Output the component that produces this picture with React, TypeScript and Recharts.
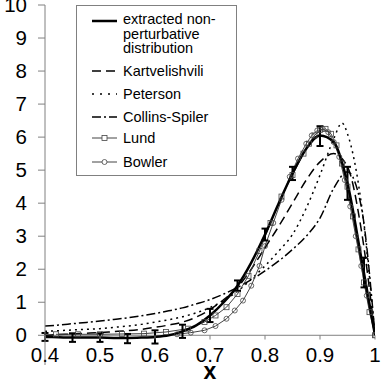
import {
  ComposedChart,
  Line,
  Scatter,
  ErrorBar,
  XAxis,
  YAxis,
  ReferenceLine,
  Legend,
} from "recharts";

const FONT = "'Liberation Sans', Arial, Helvetica, sans-serif";

// x grid shared by the extracted curve and the model curves
const xGrid = [
  0.4, 0.425, 0.45, 0.475, 0.5, 0.525, 0.55, 0.575, 0.6, 0.625, 0.65, 0.675,
  0.7, 0.725, 0.75, 0.775, 0.8, 0.825, 0.85, 0.875, 0.9, 0.925, 0.95, 0.975, 1.0,
];

const extracted = [
  -0.05, -0.06, -0.07, -0.07, -0.07, -0.08, -0.08, -0.07, -0.05, 0.0, 0.12, 0.3,
  0.6, 1.0, 1.5, 2.2, 3.05, 4.0, 4.9, 5.65, 6.05, 5.85, 4.6, 2.35, 0,
];

const kartvelishvili = [
  0.0, 0.02, 0.04, 0.06, 0.08, 0.11, 0.14, 0.18, 0.24, 0.31, 0.4, 0.55, 0.78,
  1.08, 1.45, 2.0, 2.65, 3.3, 4.0, 4.7, 5.25, 5.5, 5.1, 3.2, 0,
];

const collinsSpiler = [
  0.28, 0.31, 0.35, 0.39, 0.43, 0.48, 0.53, 0.59, 0.66, 0.74, 0.83, 0.95, 1.08,
  1.25, 1.45, 1.68, 1.95, 2.25, 2.6, 3.0, 3.55, 4.45, 4.95, 3.9, 0,
];

const petersonX = [
  0.4, 0.425, 0.45, 0.475, 0.5, 0.525, 0.55, 0.575, 0.6, 0.625, 0.65, 0.675,
  0.7, 0.725, 0.75, 0.775, 0.8, 0.825, 0.85, 0.875, 0.9, 0.925, 0.94, 0.95, 0.975, 1.0,
];
const peterson = [
  0.12, 0.14, 0.16, 0.18, 0.2, 0.24, 0.28, 0.33, 0.4, 0.47, 0.56, 0.68, 0.84,
  1.05, 1.33, 1.7, 2.1, 2.55, 3.05, 3.85, 4.85, 5.95, 6.43, 6.1, 4.0, 0,
];

const lundX = [
  0.42, 0.46, 0.5, 0.54, 0.58, 0.62, 0.66, 0.69, 0.71, 0.73, 0.75, 0.77, 0.79,
  0.81, 0.83, 0.85, 0.87, 0.88, 0.89, 0.9, 0.91, 0.92, 0.93, 0.94, 0.95, 0.96,
  0.97, 0.98, 0.99, 1.0,
];
const lund = [
  0.03, 0.03, 0.03, 0.04, 0.05, 0.1, 0.2, 0.4, 0.6, 0.85, 1.25, 1.8, 2.55, 3.4,
  4.2, 4.85, 5.5, 5.8, 6.05, 6.22, 6.25, 6.1, 5.75, 5.2, 4.5, 3.6, 2.6, 1.6, 0.7, 0,
];

const bowlerX = [
  0.64, 0.665, 0.69, 0.71, 0.73, 0.745, 0.76, 0.775, 0.79, 0.8, 0.815, 0.83,
  0.845, 0.86, 0.875, 0.885, 0.895, 0.905, 0.915, 0.925, 0.935, 0.945, 0.955,
  0.965, 0.975, 0.985, 1.0,
];
const bowler = [
  0.03, 0.08, 0.15, 0.28, 0.5, 0.75, 1.05, 1.5, 2.1, 2.7, 3.4, 4.1, 4.8, 5.35,
  5.8, 6.05, 6.2, 6.25, 6.15, 5.85, 5.4, 4.7, 3.9, 3.0, 2.1, 1.2, 0,
];

// error bars on the extracted distribution
const errX = [0.4, 0.45, 0.5, 0.55, 0.6, 0.65, 0.7, 0.75, 0.8, 0.85, 0.9, 0.95, 0.98];
const errY = [-0.05, -0.07, -0.07, -0.1, -0.05, 0.12, 0.6, 1.5, 3.05, 4.9, 6.03, 4.6, 1.9];
const errSize = [0.12, 0.13, 0.13, 0.14, 0.2, 0.2, 0.2, 0.16, 0.18, 0.2, 0.3, 0.5, 0.45];

const xTicks = [0.4, 0.5, 0.6, 0.7, 0.8, 0.9, 1];
const xTickLabels = ["0.4", "0.5", "0.6", "0.7", "0.8", "0.9", "1"];
const yTicks = [0, 1, 2, 3, 4, 5, 6, 7, 8, 9, 10];

const zip = (xs: number[], ys: number[]) => xs.map((x, i) => ({ x, y: ys[i] }));

const extractedData = zip(xGrid, extracted);
const kartData = zip(xGrid, kartvelishvili);
const csData = zip(xGrid, collinsSpiler);
const petData = zip(petersonX, peterson);
const lundData = zip(lundX, lund);
const bowlerData = zip(bowlerX, bowler);
const errData = errX.map((x, i) => ({ x, y: errY[i], err: errSize[i] }));

const AXIS = "#808080";
const GREY = "#444";

const XTick = ({ x, y, payload }: any) => {
  const label = xTickLabels[xTicks.indexOf(payload.value)] ?? String(payload.value);
  return (
    <g>
      <line x1={x} x2={x} y1={y - 29.7} y2={y - 25.5} stroke={AXIS} />
      <text x={x} y={y - 3} textAnchor="middle" fontSize={20.5} fill="#000" fontFamily={FONT}>
        {label}
      </text>
    </g>
  );
};

const YTick = ({ x, y, payload }: any) => (
  <text x={x} y={y + 7} textAnchor="end" fontSize={20.5} fill="#000" fontFamily={FONT}>
    {payload.value}
  </text>
);

const SquareDot = ({ cx, cy }: any) =>
  cx == null ? null : (
    <rect x={cx - 2.5} y={cy - 2.5} width={5} height={5} fill="none" stroke={GREY} strokeWidth={0.8} />
  );

const CircleDot = ({ cx, cy }: any) =>
  cx == null ? null : <circle cx={cx} cy={cy} r={2.5} fill="none" stroke={GREY} strokeWidth={0.8} />;

const legendRows = [
  { lines: ["Kartvelishvili"], dash: "9 5", width: 1.5, y: 66 },
  { lines: ["Peterson"], dash: "2 6", width: 1.5, y: 89 },
  { lines: ["Collins-Spiler"], dash: "9 3 2 3", width: 1.5, y: 112 },
];

const LegendBox = () => (
  <svg width={161} height={171} style={{ display: "block" }}>
    <rect x={0.5} y={0.5} width={160} height={170} fill="#fff" stroke={AXIS} />
    <line x1={16} x2={41} y1={16} y2={16} stroke="#000" strokeWidth={2.5} />
    <text fontSize={14.5} fontFamily={FONT} fill="#000">
      <tspan x={47} y={19}>extracted non-</tspan>
      <tspan x={47} y={33.5}>perturbative</tspan>
      <tspan x={47} y={48}>distribution</tspan>
    </text>
    {legendRows.map((r) => (
      <g key={r.lines[0]}>
        <line x1={16} x2={41} y1={r.y} y2={r.y} stroke="#000" strokeWidth={r.width} strokeDasharray={r.dash} />
        <text x={47} y={r.y + 5} fontSize={14.5} fontFamily={FONT} fill="#000">
          {r.lines[0]}
        </text>
      </g>
    ))}
    <line x1={16} x2={41} y1={133} y2={133} stroke={GREY} strokeWidth={1} />
    <rect x={26} y={130.5} width={5} height={5} fill="#fff" stroke={GREY} strokeWidth={0.8} />
    <text x={47} y={138} fontSize={14.5} fontFamily={FONT} fill="#000">Lund</text>
    <line x1={16} x2={41} y1={157} y2={157} stroke={GREY} strokeWidth={1} />
    <circle cx={28.5} cy={157} r={2.5} fill="#fff" stroke={GREY} strokeWidth={0.8} />
    <text x={47} y={162} fontSize={14.5} fontFamily={FONT} fill="#000">Bowler</text>
  </svg>
);

export default function App() {
  return (
    <div style={{ position: "absolute", left: 0, top: 0 }}>
      <ComposedChart
        width={382}
        height={381}
        margin={{ top: 5, right: 7, left: 0, bottom: 0 }}
        style={{ fontFamily: FONT }}
      >
        <XAxis
          type="number"
          dataKey="x"
          domain={[0.4, 1]}
          ticks={xTicks}
          interval={0}
          allowDataOverflow
          axisLine={false}
          tickLine={false}
          tickSize={0}
          tickMargin={0}
          height={16}
          tick={<XTick />}
          label={{
            value: "x",
            position: "insideBottom",
            offset: 2,
            style: { fontSize: 23, fontWeight: "bold", fill: "#000", fontFamily: FONT },
          }}
        />
        <YAxis
          type="number"
          domain={[-0.9, 10]}
          ticks={yTicks}
          interval={0}
          allowDataOverflow
          width={45}
          stroke={AXIS}
          tickSize={7}
          tickMargin={11}
          tick={<YTick />}
        />
        <ReferenceLine y={0} stroke={AXIS} />
        <Legend
          layout="vertical"
          align="center"
          verticalAlign="middle"
          content={LegendBox}
          wrapperStyle={{ position: "absolute", left: 76, top: 5, width: 161, height: 171 }}
        />
        <Line
          data={csData}
          dataKey="y"
          type="monotone"
          stroke="#000"
          strokeWidth={1.5}
          strokeDasharray="9 3 2 3"
          dot={false}
          isAnimationActive={false}
        />
        <Line
          data={petData}
          dataKey="y"
          type="monotone"
          stroke="#000"
          strokeWidth={1.5}
          strokeDasharray="2 4"
          dot={false}
          isAnimationActive={false}
        />
        <Line
          data={kartData}
          dataKey="y"
          type="monotone"
          stroke="#000"
          strokeWidth={1.5}
          strokeDasharray="9 5"
          dot={false}
          isAnimationActive={false}
        />
        <Line
          data={lundData}
          dataKey="y"
          type="linear"
          stroke={GREY}
          strokeWidth={1}
          dot={<SquareDot />}
          isAnimationActive={false}
        />
        <Line
          data={bowlerData}
          dataKey="y"
          type="linear"
          stroke={GREY}
          strokeWidth={1}
          dot={<CircleDot />}
          isAnimationActive={false}
        />
        <Line
          data={extractedData}
          dataKey="y"
          type="monotone"
          stroke="#000"
          strokeWidth={2.5}
          dot={false}
          isAnimationActive={false}
        />
        <Scatter data={errData} dataKey="y" shape={() => <g />} isAnimationActive={false}>
          <ErrorBar dataKey="err" direction="y" width={3.5} stroke="#000" strokeWidth={2} isAnimationActive={false} />
        </Scatter>
      </ComposedChart>
    </div>
  );
}
